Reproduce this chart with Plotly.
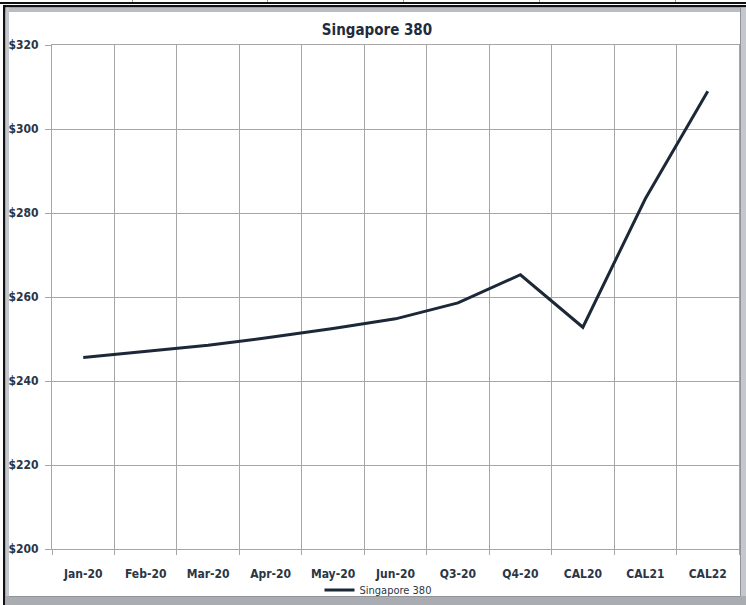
import plotly.graph_objects as go

categories = ["Jan-20", "Feb-20", "Mar-20", "Apr-20", "May-20", "Jun-20",
              "Q3-20", "Q4-20", "CAL20", "CAL21", "CAL22"]
values = [245.6, 247.0, 248.5, 250.4, 252.5, 254.8, 258.6, 265.3, 252.8, 283.4, 309.0]
series_name = "Singapore 380"
y_ticks = [200, 220, 240, 260, 280, 300, 320]
y_tick_text = ["$" + str(v) for v in y_ticks]

W, H = 746, 605
L, R, T, B = 52, 7, 45, 56
PW, PH = W - L - R, H - T - B


def px(x):
    return (x - L) / PW


def py(y):
    return (H - B - y) / PH


font_fam = "DejaVu Sans Condensed, Liberation Sans Narrow, Roboto, Arial"
txt_col = "#2a3646"
grid_col = "#a6a6a6"

fig = go.Figure()
fig.add_trace(go.Scatter(
    x=categories, y=values, mode="lines", name=series_name,
    line=dict(color="#1c2838", width=3),
    showlegend=True,
))

shapes = []


def rect(x0, y0, x1, y1, color):
    shapes.append(dict(type="rect", xref="paper", yref="paper",
                       x0=px(x0), x1=px(x1), y0=py(y1), y1=py(y0),
                       fillcolor=color, line=dict(width=0), layer="below"))


# outer frame (spreadsheet-like border)
rect(0, 2, W, 4, "#111111")
for sx in [132, 267, 403, 539, 675]:
    rect(sx, 0, sx + 1, 2, "#9a9a9a")
rect(3, 5, W, 7.5, "#111111")
rect(5, 7.5, W, 12, "#b9bcc0")
rect(3, 5, 5.5, H, "#111111")
rect(5.5, 7.5, 9, H, "#c4c7cb")
rect(740, 7.5, W, H, "#c4c7cb")
rect(740, 7.5, 741, 596, "#8f9296")
rect(5.5, 596, W, H, "#a9acb0")
rect(9, 596, 740, 597, "#8f9296")

fig.update_layout(
    width=W, height=H,
    margin=dict(l=L, r=R, t=T, b=B, autoexpand=False),
    paper_bgcolor="white", plot_bgcolor="white",
    shapes=shapes,
    title=dict(text="<b>Singapore 380</b>", x=px(377), xref="paper",
               y=1 - 30 / H, yref="container", xanchor="center", yanchor="middle",
               font=dict(family=font_fam, size=15, color="#1f2c3c")),
    xaxis=dict(
        type="category", tickson="boundaries", ticks="outside", ticklen=5,
        tickcolor=grid_col, showgrid=True, gridcolor=grid_col, gridwidth=1,
        showline=True, linecolor=grid_col, mirror=True,
        tickfont=dict(family=font_fam, size=12, color=txt_col, weight="bold"),
        ticklabelstandoff=14, range=[-0.5, 10.5], automargin=False,
    ),
    yaxis=dict(
        range=[200, 320], tickmode="array", tickvals=y_ticks, ticktext=y_tick_text,
        ticks="outside", ticklen=6, tickcolor=grid_col,
        showgrid=True, gridcolor=grid_col, gridwidth=1,
        showline=True, linecolor=grid_col, mirror=True,
        tickfont=dict(family=font_fam, size=12, color=txt_col, weight="bold"),
        ticklabelstandoff=4, zeroline=False, automargin=False,
    ),
    legend=dict(orientation="h", x=px(378), xanchor="center",
                y=py(590), yanchor="middle",
                font=dict(family=font_fam, size=11, color=txt_col),
                bgcolor="rgba(0,0,0,0)", itemwidth=30),
)

fig.write_html("out.html")
